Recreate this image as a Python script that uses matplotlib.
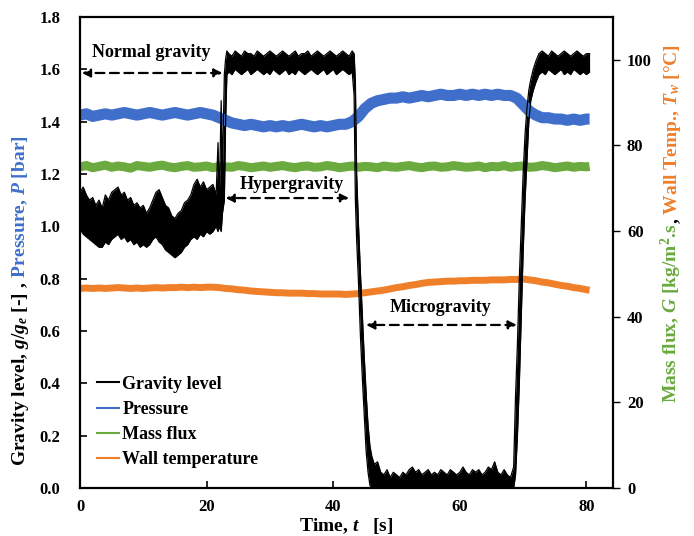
import matplotlib
matplotlib.use('Agg')
import matplotlib.pyplot as plt
from matplotlib.lines import Line2D
import numpy as np

plt.rcParams['font.family'] = 'Liberation Serif'
plt.rcParams['font.weight'] = 'bold'
plt.rcParams['axes.labelweight'] = 'bold'
plt.rcParams['mathtext.fontset'] = 'custom'
plt.rcParams['mathtext.rm'] = 'Liberation Serif:bold'
plt.rcParams['mathtext.it'] = 'Liberation Serif:italic:bold'
plt.rcParams['mathtext.bf'] = 'Liberation Serif:bold'

BLACK = '#000000'
BLUE = '#3F6FCB'
GREEN = '#6AAA3F'
ORANGE = '#F07F2A'

# gravity level g/g_e : time, lower and upper edge of the noisy trace
g_time = [0.0, 0.5, 1.0, 1.5, 2.0, 2.5, 3.0, 3.5, 4.0, 4.5, 5.0, 5.5, 6.0, 6.5, 7.0, 7.5,
          8.0, 8.5, 9.0, 9.5, 10.0, 10.5, 11.0, 11.5, 12.0, 12.5, 13.0, 13.5, 14.0, 14.5,
          15.0, 15.5, 16.0, 16.5, 17.0, 17.5, 18.0, 18.5, 19.0, 19.5, 20.0, 20.5, 21.0, 21.5,
          21.8, 22.0, 22.3, 22.5, 22.8, 23.0, 23.2,
          23.5, 24.0, 24.5, 25.0, 25.5, 26.0, 26.5, 27.0, 27.5, 28.0, 28.5, 29.0, 29.5,
          30.0, 30.5, 31.0, 31.5, 32.0, 32.5, 33.0, 33.5, 34.0, 34.5, 35.0, 35.5, 36.0,
          36.5, 37.0, 37.5, 38.0, 38.5, 39.0, 39.5, 40.0, 40.5, 41.0, 41.5, 42.0, 42.5,
          43.0, 43.3,
          43.5, 43.7, 44.0, 44.3, 44.6, 44.9, 45.2, 45.5, 45.8, 46.1, 46.5,
          47.0, 47.5, 48.0, 48.5, 49.0, 49.5, 50.0, 50.5, 51.0, 51.5, 52.0, 52.5, 53.0,
          53.5, 54.0, 54.5, 55.0, 55.5, 56.0, 56.5, 57.0, 57.5, 58.0, 58.5, 59.0, 59.5,
          60.0, 60.5, 61.0, 61.5, 62.0, 62.5, 63.0, 63.5, 64.0, 64.5, 65.0, 65.5, 66.0,
          66.5, 67.0, 67.5, 68.0, 68.5,
          68.8, 69.1, 69.4, 69.7, 70.0, 70.3, 70.6, 70.9, 71.2, 71.6, 72.0, 72.5,
          73.0, 73.5, 74.0, 74.5, 75.0, 75.5, 76.0, 76.5, 77.0, 77.5, 78.0, 78.5, 79.0,
          79.5, 80.0, 80.5]
g_low = [0.99, 0.97, 0.96, 0.95, 0.94, 0.93, 0.92, 0.92, 0.94, 0.93, 0.95, 0.96, 0.97, 0.95,
         0.96, 0.94, 0.95, 0.93, 0.94, 0.92, 0.93, 0.92, 0.93, 0.95, 0.96, 0.94, 0.93, 0.91,
         0.90, 0.89, 0.88, 0.89, 0.90, 0.92, 0.93, 0.95, 0.96, 0.95, 0.97, 0.96, 0.98, 0.97,
         0.98, 1.00,
         0.98, 1.00, 0.98, 1.05, 1.10, 1.40, 1.58,
         1.59, 1.58, 1.60, 1.59, 1.58, 1.59, 1.60, 1.58, 1.59, 1.60, 1.59, 1.58, 1.59,
         1.58, 1.60, 1.59, 1.58, 1.59, 1.60, 1.58, 1.59, 1.58, 1.60, 1.59, 1.58, 1.59,
         1.60, 1.59, 1.58, 1.59, 1.60, 1.58, 1.59, 1.60, 1.58, 1.59, 1.60, 1.59, 1.58,
         1.59, 1.50,
         1.10, 0.95, 0.78, 0.58, 0.42, 0.28, 0.14, 0.06, 0.01, 0.00, 0.00,
         0.00, 0.00, 0.00, 0.00, 0.00, 0.00, 0.00, 0.00, 0.00, 0.00, 0.00, 0.00, 0.00,
         0.00, 0.00, 0.00, 0.00, 0.00, 0.00, 0.00, 0.00, 0.00, 0.00, 0.00, 0.00, 0.00,
         0.00, 0.00, 0.00, 0.00, 0.00, 0.00, 0.00, 0.00, 0.00, 0.00, 0.00, 0.00, 0.00,
         0.00, 0.00, 0.00, 0.00, 0.00,
         0.05, 0.20, 0.40, 0.65, 0.90, 1.10, 1.25, 1.40, 1.48, 1.52, 1.55, 1.58,
         1.59, 1.58, 1.60, 1.59, 1.58, 1.59, 1.60, 1.58, 1.59, 1.58, 1.60, 1.59, 1.58,
         1.59, 1.58, 1.59]
g_high = [1.13, 1.15, 1.12, 1.10, 1.11, 1.08, 1.10, 1.07, 1.12, 1.10, 1.13, 1.14, 1.15, 1.12,
          1.13, 1.10, 1.11, 1.08, 1.09, 1.07, 1.08, 1.05, 1.07, 1.10, 1.13, 1.14, 1.11, 1.08,
          1.07, 1.04, 1.03, 1.05, 1.06, 1.09, 1.10, 1.12, 1.16, 1.18, 1.15, 1.17, 1.14, 1.15,
          1.16, 1.12,
          1.32, 1.10, 1.48, 1.20, 1.58, 1.64, 1.67,
          1.66, 1.65, 1.67, 1.66, 1.65, 1.67, 1.66, 1.66, 1.65, 1.67, 1.66, 1.65, 1.66,
          1.67, 1.66, 1.65, 1.66, 1.67, 1.66, 1.65, 1.66, 1.67, 1.65, 1.66, 1.66, 1.67,
          1.65, 1.66, 1.67, 1.66, 1.65, 1.66, 1.67, 1.66, 1.65, 1.66, 1.67, 1.66, 1.65,
          1.67, 1.66,
          1.55, 1.20, 1.00, 0.82, 0.66, 0.50, 0.36, 0.24, 0.16, 0.12, 0.09,
          0.10, 0.06, 0.05, 0.07, 0.04, 0.06, 0.05, 0.04, 0.06, 0.05, 0.07, 0.08, 0.06,
          0.07, 0.05, 0.06, 0.07, 0.05, 0.06, 0.05, 0.07, 0.06, 0.05, 0.07, 0.06, 0.05,
          0.06, 0.08, 0.06, 0.05, 0.07, 0.06, 0.07, 0.05, 0.06, 0.08, 0.07, 0.10, 0.06,
          0.05, 0.07, 0.05, 0.04, 0.08,
          0.35, 0.55, 0.80, 1.00, 1.20, 1.35, 1.45, 1.52, 1.56, 1.60, 1.63, 1.66,
          1.67, 1.66, 1.65, 1.67, 1.66, 1.65, 1.66, 1.67, 1.66, 1.65, 1.66, 1.67, 1.66,
          1.65, 1.66, 1.66]

# pressure [bar], one reading per second
p_time = list(range(0, 81)) + [80.5]
pressure = [1.425, 1.430, 1.420, 1.425, 1.430, 1.425, 1.430, 1.435, 1.430, 1.425, 1.430,
            1.435, 1.430, 1.425, 1.430, 1.435, 1.430, 1.425, 1.430, 1.435, 1.430, 1.425,
            1.415, 1.405, 1.395, 1.390, 1.385, 1.390, 1.385, 1.380, 1.385, 1.380, 1.385,
            1.380, 1.385, 1.390, 1.385, 1.380, 1.385, 1.380, 1.385, 1.390, 1.390, 1.400,
            1.420, 1.450, 1.470, 1.480, 1.485, 1.490, 1.490, 1.495, 1.490, 1.495, 1.500,
            1.495, 1.500, 1.505, 1.500, 1.500, 1.505, 1.500, 1.505, 1.500, 1.505, 1.500,
            1.505, 1.500, 1.500, 1.490, 1.465, 1.440, 1.425, 1.415, 1.415, 1.410, 1.410,
            1.405, 1.410, 1.405, 1.410, 1.410]

# mass flux G [kg/m2.s] and wall temperature Tw [C], right axis
mass_flux = [75.0, 75.3, 74.8, 75.1, 75.4, 74.9, 75.2, 75.0, 74.7, 75.3, 75.1, 74.9, 75.2,
             75.4, 75.0, 74.8, 75.1, 75.3, 74.9, 75.0, 75.2, 74.8, 75.1, 75.0, 74.9, 75.3,
             75.1, 74.8, 75.0, 75.2, 74.9, 75.1, 75.3, 75.0, 74.8, 75.1, 75.2, 74.9, 75.0,
             75.3, 75.1, 74.8, 75.0, 75.2, 74.9, 75.1, 75.0, 74.8, 75.2, 75.0, 74.9, 75.1,
             75.3, 75.0, 74.8, 75.1, 75.2, 74.9, 75.0, 75.3, 75.1, 74.9, 75.0, 75.2, 74.8,
             75.1, 75.0, 75.3, 74.9, 75.1, 75.2, 74.9, 75.0, 75.3, 75.1, 74.8, 75.0, 75.2,
             74.9, 75.1, 75.0, 75.1]
wall_temp = [46.6, 46.7, 46.6, 46.7, 46.6, 46.7, 46.8, 46.7, 46.6, 46.7, 46.6, 46.7, 46.8,
             46.7, 46.8, 46.8, 46.9, 46.8, 46.9, 46.8, 46.9, 46.9, 46.8, 46.6, 46.5, 46.3,
             46.2, 46.0, 45.9, 45.8, 45.7, 45.6, 45.6, 45.5, 45.5, 45.5, 45.4, 45.4, 45.3,
             45.3, 45.3, 45.3, 45.2, 45.3, 45.4, 45.6, 45.8, 46.0, 46.2, 46.5, 46.8, 47.0,
             47.3, 47.5, 47.8, 48.0, 48.1, 48.2, 48.3, 48.3, 48.4, 48.4, 48.5, 48.5, 48.5,
             48.6, 48.6, 48.6, 48.7, 48.7, 48.8, 48.6, 48.4, 48.1, 47.9, 47.6, 47.3, 47.1,
             46.8, 46.6, 46.3, 46.2]

fig = plt.figure(figsize=(6.94, 5.36), dpi=100)
ax = fig.add_axes([0.1153, 0.0896, 0.7680, 0.8787])
ax2 = ax.twinx()
ax.set_zorder(ax2.get_zorder() + 1)
ax.patch.set_visible(False)

# right axis series
ax2.plot(p_time, mass_flux, color=GREEN, lw=6.5, solid_capstyle='butt')
ax2.plot(p_time, wall_temp, color=ORANGE, lw=5, solid_capstyle='butt')
ax2.set_ylim(0, 110)
ax2.set_yticks(range(0, 101, 20))
for s in ax2.spines.values():
    s.set_visible(False)
ax2.tick_params(axis='y', direction='out', length=5, width=1, pad=5, labelsize=12)

# left axis series
ax.plot(p_time, pressure, color=BLUE, lw=8, solid_capstyle='butt')
ax.fill_between(g_time, g_low, g_high, color=BLACK, lw=0)
ax.plot(g_time, g_low, color=BLACK, lw=0.9)
ax.plot(g_time, g_high, color=BLACK, lw=0.9)

ax.set_xlim(0, 84.2)
ax.set_ylim(0, 1.8)
ax.set_xticks(range(0, 81, 20))
ax.set_yticks(np.arange(0, 1.81, 0.2))
ax.yaxis.set_major_formatter(plt.FormatStrFormatter('%.1f'))
ax.tick_params(axis='y', direction='in', length=5, width=1.2, pad=14, labelsize=12)
ax.tick_params(axis='x', direction='in', length=5, width=1.2, pad=8, labelsize=12)
for s in ax.spines.values():
    s.set_linewidth(1.6)

ax.set_xlabel('Time, $t$   [s]', fontsize=14, fontweight='bold', labelpad=1)

# phase arrows
arrow_kw = dict(arrowstyle='<|-|>', color=BLACK, lw=1.6, linestyle=(0, (4, 2.5)),
                mutation_scale=12, shrinkA=0, shrinkB=0)
ax.annotate('', xy=(0.3, 1.586), xytext=(22.5, 1.586), arrowprops=arrow_kw)
ax.annotate('', xy=(23.0, 1.108), xytext=(42.5, 1.108), arrowprops=arrow_kw)
ax.annotate('', xy=(45.2, 0.623), xytext=(69.0, 0.623), arrowprops=arrow_kw)
ax.text(11.3, 1.665, 'Normal gravity', ha='center', va='center', fontsize=13)
ax.text(33.4, 1.16, 'Hypergravity', ha='center', va='center', fontsize=13)
ax.text(57.0, 0.69, 'Microgravity', ha='center', va='center', fontsize=13)

handles = [Line2D([], [], color=BLACK, lw=1.5), Line2D([], [], color=BLUE, lw=1.5),
           Line2D([], [], color=GREEN, lw=1.5), Line2D([], [], color=ORANGE, lw=1.5)]
ax.legend(handles, ['Gravity level', 'Pressure', 'Mass flux', 'Wall temperature'],
          loc='lower left', bbox_to_anchor=(-0.005, 0.0), frameon=False, fontsize=13,
          handlelength=1.2, handletextpad=0.2, labelspacing=0.45, borderpad=0.6)

# two-coloured axis titles
t1 = fig.text(0.036, 0.13, 'Gravity level, $g/g_e$ [-] ,', rotation=90,
              rotation_mode='anchor', ha='left', va='baseline', fontsize=14)
ax.annotate(' Pressure, $P$ [bar]', xy=(0.036, 1.0), xycoords=('figure fraction', t1),
            rotation=90, rotation_mode='anchor', ha='left', va='baseline',
            fontsize=14, color=BLUE, annotation_clip=False)
t3 = fig.text(0.975, 0.248, 'Mass flux, $G$ [kg/m$^2$.s', rotation=90,
              rotation_mode='anchor', ha='left', va='baseline', fontsize=14, color=GREEN)
t4 = ax.annotate(',', xy=(0.975, 1.0), xycoords=('figure fraction', t3),
                 rotation=90, rotation_mode='anchor', ha='left', va='baseline',
                 fontsize=14, color=BLACK, annotation_clip=False)
ax.annotate(' Wall Temp., $T_w$ [\u00b0C]', xy=(0.975, 1.0), xycoords=('figure fraction', t4),
            rotation=90, rotation_mode='anchor', ha='left', va='baseline',
            fontsize=14, color=ORANGE, annotation_clip=False)

fig.savefig('out.png', dpi=100)
